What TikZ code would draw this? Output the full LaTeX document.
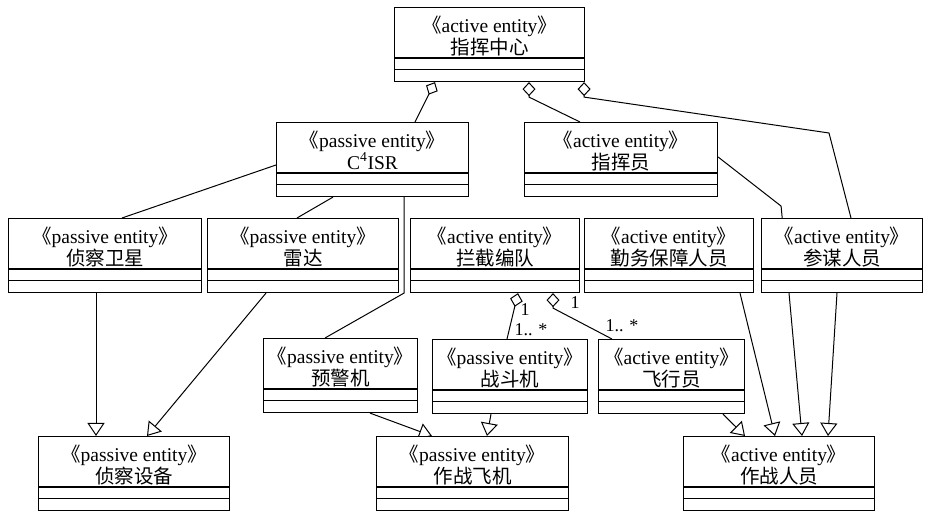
\documentclass[tikz,border=0pt]{standalone}
\usepackage{fontspec}
\setmainfont{Liberation Serif}
\newfontfamily\cjk{Noto Sans CJK SC}
\usetikzlibrary{arrows.meta, positioning, calc, backgrounds}

\newcommand{\zh}[1]{{\cjk\fontsize{19.5}{22}\selectfont #1}}

\tikzset{
  clsbox/.style={draw, line width=1.1pt, fill=white, minimum height=74pt, inner sep=0pt, anchor=north west},
  clstext/.style={inner sep=0pt, anchor=base, font=\fontsize{19.5}{22}\selectfont},
  compline/.style={line width=1.1pt},
  assoc/.style={line width=1pt},
  aggr/.style={line width=1pt, {Diamond[open, length=14pt, width=13pt]}-},
  gen/.style={line width=1pt, -{Triangle[open, length=13pt, width=17pt]}},
  mult/.style={inner sep=0pt, font=\fontsize{18}{20}\selectfont},
}

% name, x left, y top, width, stereotype, title
\newcommand{\umlclass}[6]{%
  \node[clsbox, minimum width=#4pt] (#1) at (#2,#3) {};
  \node[clstext] (#1-st) at ($(#1.north)+(0,-26)$) {{\cjk 《}#5{\cjk 》}};
  \node[clstext] (#1-ti) at ($(#1.north)+(0,-47.5)$) {#6};
  \draw[compline] ($(#1.north west)+(0,-51)$) -- ($(#1.north east)+(0,-51)$);
  \draw[compline] ($(#1.north west)+(0,-62.5)$) -- ($(#1.north east)+(0,-62.5)$);
}

\begin{document}
\begin{tikzpicture}[x=1pt, y=1pt]
  \useasboundingbox (0,0) rectangle (930,512);

  % 指挥层
  \umlclass{zhzx}{394}{505}{190}{active entity}{\zh{指挥中心}}
  \umlclass{c4isr}{276}{390}{192}{passive entity}{C\textsuperscript{4}ISR}
  \umlclass{zhy}{524}{390}{193}{active entity}{\zh{指挥员}}
  % 第三行
  \umlclass{zcwx}{8}{294}{193}{passive entity}{\zh{侦察卫星}}
  \umlclass{ld}{207}{294}{191}{passive entity}{\zh{雷达}}
  \umlclass{ljbd}{410}{294}{169}{active entity}{\zh{拦截编队}}
  \umlclass{qwbz}{584}{294}{169}{active entity}{\zh{勤务保障人员}}
  \umlclass{cmry}{761}{294}{161}{active entity}{\zh{参谋人员}}
  % 第四行
  \umlclass{yjj}{263}{174}{154}{passive entity}{\zh{预警机}}
  \umlclass{zdj}{432}{173}{155}{passive entity}{\zh{战斗机}}
  \umlclass{fxy}{598}{173}{146}{active entity}{\zh{飞行员}}
  % 父类
  \umlclass{zcsb}{38}{76}{191}{passive entity}{\zh{侦察设备}}
  \umlclass{zzfj}{376}{76}{192}{passive entity}{\zh{作战飞机}}
  \umlclass{zzry}{683}{76}{191}{active entity}{\zh{作战人员}}

  % 多重性
  \node[mult] (m1a) at (525,202) {1};
  \node[mult] (m1b) at (531,182) {1.. *};
  \node[mult] (m2a) at (575,209) {1};
  \node[mult] (m2b) at (622,186) {1.. *};

  \begin{scope}[on background layer]
    % 聚合
    \draw[aggr] ([xshift=41pt]zhzx.south west) -- ([xshift=139pt]c4isr.north west);
    \draw[aggr] ([xshift=135pt]zhzx.south west) -- ++(0,-15) -- ([xshift=56pt]zhy.north west);
    \draw[aggr] ([xshift=-1pt]zhzx.south east) -- ++(0,-15) -- ($(cmry.north west)+(68,85)$) -- ([xshift=90pt]cmry.north west);
    \draw[aggr] ([xshift=108pt]ljbd.south west) -- ([xshift=75pt]zdj.north west);
    \draw[aggr] ([xshift=143pt]ljbd.south west) -- ++(0,-15) -- ([xshift=14pt]fxy.north west);
    % 关联
    \draw[assoc] ([yshift=-43pt]c4isr.north west) -- ([xshift=114pt]zcwx.north west);
    \draw[assoc] ([xshift=57pt]c4isr.south west) -- ([xshift=90pt]ld.north west);
    \draw[assoc] ([xshift=128pt]c4isr.south west) -- ++(0,-96) -- ([xshift=62pt]yjj.north west);
    % 泛化
    \draw[gen] ([xshift=88pt]zcwx.south west) -- ([xshift=58pt]zcsb.north west);
    \draw[gen] ([xshift=59pt]ld.south west) -- ([xshift=109pt]zcsb.north west);
    \draw[gen] ([xshift=107pt]yjj.south west) -- ([xshift=56pt]zzfj.north west);
    \draw[gen] ([xshift=59pt]zdj.south west) -- ([xshift=111pt]zzfj.north west);
    \draw[gen] ([xshift=125pt]fxy.south west) -- ([xshift=62pt]zzry.north west);
    \draw[gen] ([xshift=156pt]qwbz.south west) -- ([xshift=92pt]zzry.north west);
    \draw[gen] ([yshift=-35pt]zhy.north east) -- ($(zhy.south east)+(63,-9)$) -- ([xshift=119pt]zzry.north west);
    \draw[gen] ([xshift=76pt]cmry.south west) -- ([xshift=145pt]zzry.north west);
  \end{scope}
\end{tikzpicture}
\end{document}
